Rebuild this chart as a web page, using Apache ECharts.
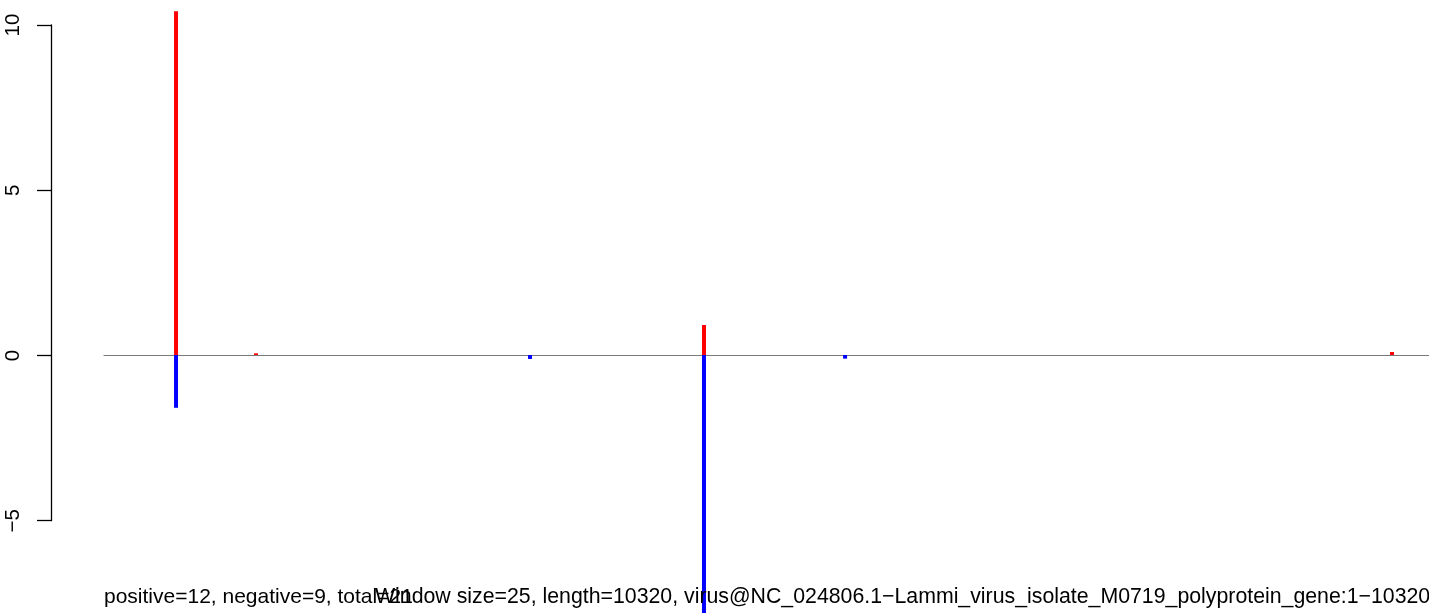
<!DOCTYPE html>
<html>
<head>
<meta charset="utf-8">
<script src="https://cdn.jsdelivr.net/npm/echarts@6/dist/echarts.min.js"></script>
<style>
html,body{margin:0;padding:0;background:#fff;}
#chart{width:1429px;height:613px;}
</style>
</head>
<body>
<div id="chart"></div>
<script>
// Genome positions of the windows with visible signal
const positivePositions = [561, 1184, 4673, 10032];
const positiveValues = [10.42, 0.05, 0.91, 0.09];
const negativePositions = [561, 3318, 4673, 5772];
const negativeValues = [-1.6, -0.12, -7.9, -0.11];
const yTicks = [-5, 0, 5, 10];
const seqLength = 10320;
const leftNote = 'positive=12, negative=9, total=21';
const subNote = 'Window size=25, length=10320, virus@NC_024806.1\u2212Lammi_virus_isolate_M0719_polyprotein_gene:1\u221210320';

const FONT = '"Liberation Sans", Arial, Helvetica, sans-serif';
const chart = echarts.init(document.getElementById('chart'), null, {renderer: 'canvas'});

const zeroPx = 355, pxPerUnit = 33, H = 613;
const yMax = zeroPx / pxPerUnit;
const yMin = -(H - zeroPx) / pxPerUnit;

chart.setOption({
  animation: false,
  backgroundColor: '#ffffff',
  title: [
    {text: leftNote, left: 104, top: 587, padding: 0,
     textStyle: {fontFamily: FONT, fontSize: 21, fontWeight: 'normal', color: '#000'}},
    {text: subNote, left: 375, top: 587, padding: 0,
     textStyle: {fontFamily: FONT, fontSize: 21.3, fontWeight: 'normal', color: '#000'}}
  ],
  grid: [
    {left: 104, right: 0, top: 0, bottom: 0, containLabel: false},
    {left: 51, width: 10, top: 25, bottom: H - 520.7, containLabel: false}
  ],
  xAxis: [
    {type: 'value', gridIndex: 0, min: 0, max: seqLength,
     axisLine: {show: true, onZero: true, lineStyle: {color: '#7a7a7a', width: 1.2}},
     axisTick: {show: false}, axisLabel: {show: false}, splitLine: {show: false}},
    {type: 'value', gridIndex: 1, show: false, min: 0, max: 1}
  ],
  yAxis: [
    {type: 'value', gridIndex: 0, min: yMin, max: yMax, show: false, splitLine: {show: false}},
    {type: 'value', gridIndex: 1, min: yTicks[0], max: yTicks[yTicks.length - 1], interval: 5,
     position: 'left',
     axisLine: {show: true, lineStyle: {color: '#000', width: 1.3}},
     axisTick: {show: true, inside: false, length: 14, lineStyle: {color: '#000', width: 1.3}},
     axisLabel: {show: true, rotate: 90, margin: 27, color: '#000', fontFamily: FONT, fontSize: 20.5,
       formatter: v => (v < 0 ? '\u2212' + Math.abs(v) : String(v))},
     splitLine: {show: false}}
  ],
  series: [
    {type: 'bar', xAxisIndex: 0, yAxisIndex: 0, barWidth: 4, barGap: '-100%',
     itemStyle: {color: '#ff0000'}, clip: true,
     data: positivePositions.map((p, i) => [p, positiveValues[i]])},
    {type: 'bar', xAxisIndex: 0, yAxisIndex: 0, barWidth: 4, barGap: '-100%',
     itemStyle: {color: '#0000ff'}, clip: true,
     data: negativePositions.map((p, i) => [p, negativeValues[i]])}
  ]
});
</script>
</body>
</html>
